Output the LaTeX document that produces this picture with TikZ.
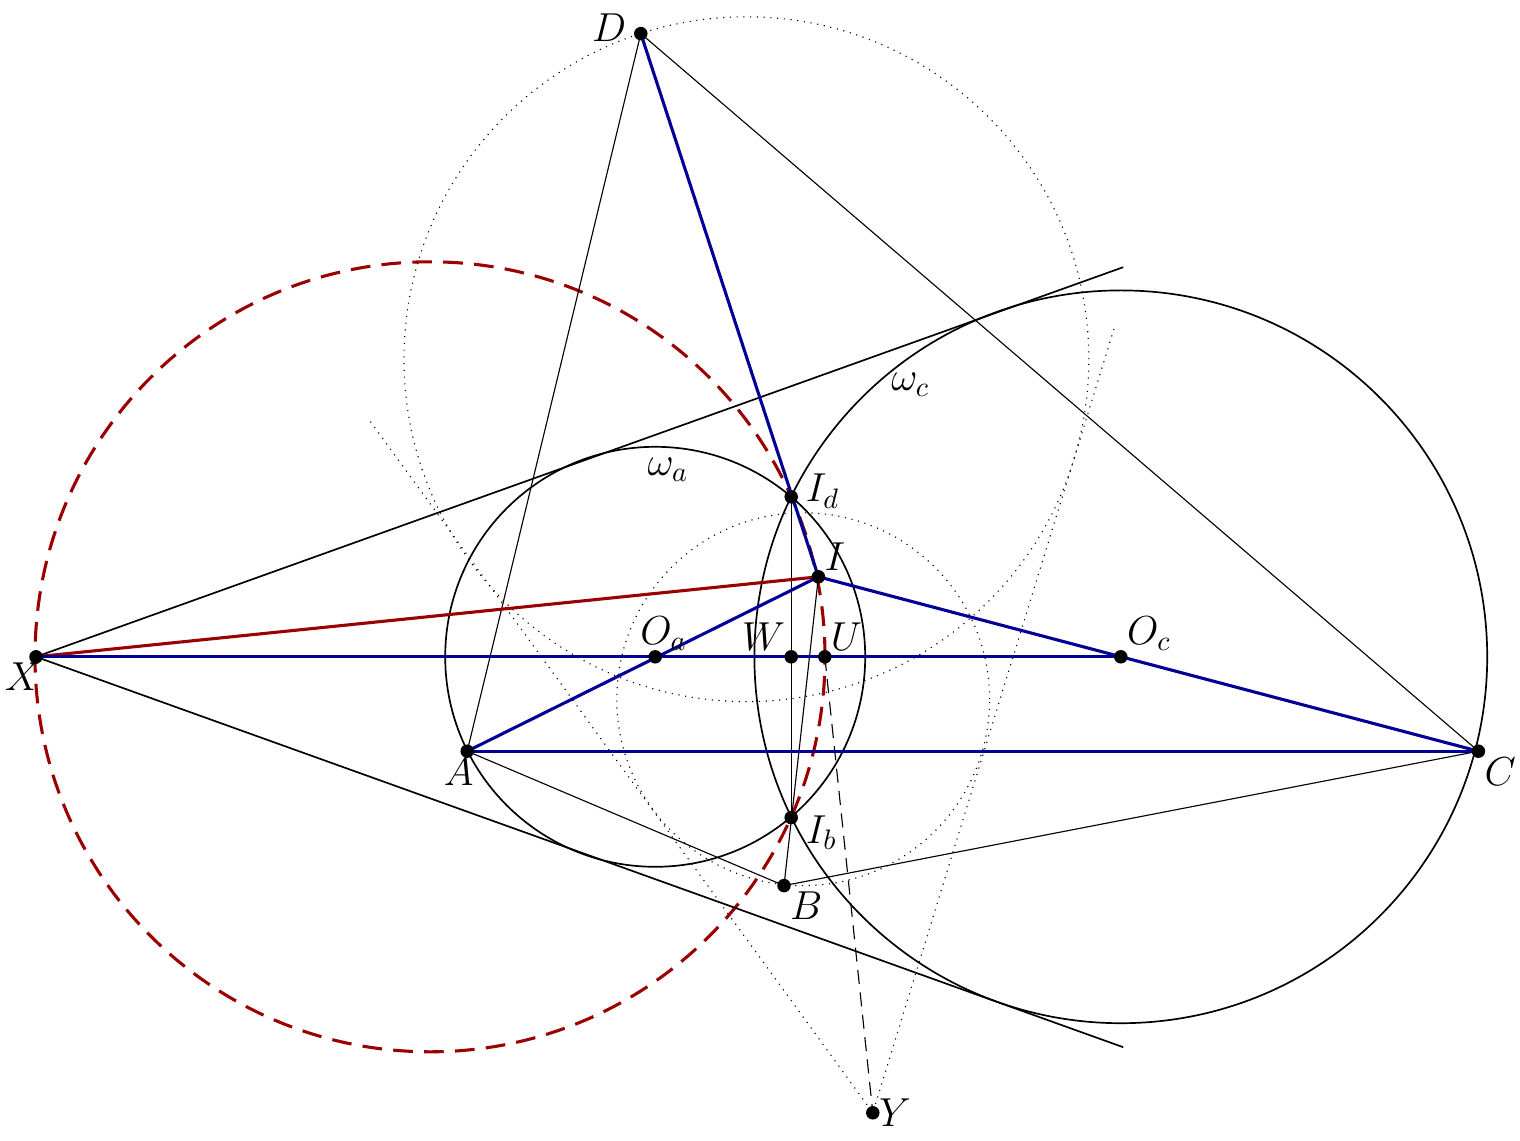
\documentclass[tikz,border=0pt]{standalone}
\usepackage{tikz}
\definecolor{darkblue}{RGB}{0,0,150}
\definecolor{darkred}{RGB}{155,0,0}
\tikzset{
  dot/.style={fill=black},
  lbl/.style={inner sep=2pt,font=\Large}
}
\begin{document}
\begin{tikzpicture}
        \useasboundingbox (0,0) rectangle (19,14.25);
        %% points
        \coordinate (D) at (8.01,13.83);
        \coordinate (X) at (0.45,6.04);
        \coordinate (A) at (5.84,4.86);
        \coordinate (C) at (18.48,4.86);
        \coordinate (B) at (9.80,3.18);
        \coordinate (Id) at (9.89,8.04);
        \coordinate (I) at (10.23,7.04);
        \coordinate (Ib) at (9.89,4.03);
        \coordinate (Oa) at (8.19,6.04);
        \coordinate (W) at (9.89,6.04);
        \coordinate (U) at (10.31,6.04);
        \coordinate (Oc) at (14.01,6.04);
        \coordinate (Y) at (10.91,0.34);
        \coordinate (Xc) at (5.375,6.04);
        \coordinate (T1) at (14.04,10.91);
        \coordinate (T2) at (14.04,1.16);
        \coordinate (S1) at (4.63,8.98);
        \coordinate (S2) at (13.94,10.19);
        %% dotted circles and tangents
        \draw[thin,dotted] (9.33,9.76) circle (4.28);
        \draw[thin,dotted] (10.04,5.51) circle (2.33);
        \draw[thin,dotted] (S1) -- (Y) -- (S2);
        \draw[thin,dash pattern=on 5pt off 3pt] (U) -- (Y);
        %% circles
        \draw[semithick] (Oa) circle (2.625);
        \draw[semithick] (Oc) circle (4.58);
        \draw[line width=1.1pt,darkred,dash pattern=on 7pt off 4pt] (Xc) circle (4.9375);
        %% lines
        \draw[semithick] (T1) -- (X) -- (T2);
        \draw[thin] (A) -- (D) -- (C) -- (B) -- (A);
        \draw[thin] (Id) -- (Ib);
        \draw[thin] (I) -- (B);
        \draw[line width=1.1pt,darkred] (X) -- (I);
        \draw[line width=1.1pt,darkblue] (X) -- (Oc);
        \draw[line width=1.1pt,darkblue] (A) -- (C);
        \draw[line width=1.1pt,darkblue] (A) -- (I) -- (C);
        \draw[line width=1.1pt,darkblue] (D) -- (I);
        %% dots
        \foreach \p in {D,X,A,C,B,Id,I,Ib,Oa,W,U,Oc,Y}
            \fill[dot] (\p) circle (2.4pt);
        %% labels
        \node[lbl,anchor=south east,xshift=-3pt,yshift=-5pt] at (D) {$D$};
        \node[lbl,anchor=north east,xshift=4pt] at (X) {$X$};
        \node[lbl,anchor=north,xshift=-3pt] at (A) {$A$};
        \node[lbl,anchor=north west] at (C) {$C$};
        \node[lbl,anchor=north west] at (B) {$B$};
        \node[lbl,anchor=north west,xshift=3pt,yshift=3pt] at (Ib) {$I_b$};
        \node[lbl,anchor=west,xshift=3pt,yshift=2pt] at (Id) {$I_d$};
        \node[lbl,anchor=south west] at (I) {$I$};
        \node[lbl,anchor=south,xshift=3pt] at (Oa) {$O_a$};
        \node[lbl,anchor=south east] at (W) {$W$};
        \node[lbl,anchor=south west] at (U) {$U$};
        \node[lbl,anchor=south west] at (Oc) {$O_c$};
        \node[lbl,anchor=west] at (Y) {$Y$};
        \node[lbl] (wa) at (8.35,8.38) {$\omega_a$};
        \node[lbl] (wc) at (11.38,9.44) {$\omega_c$};
    \end{tikzpicture}
\end{document}
